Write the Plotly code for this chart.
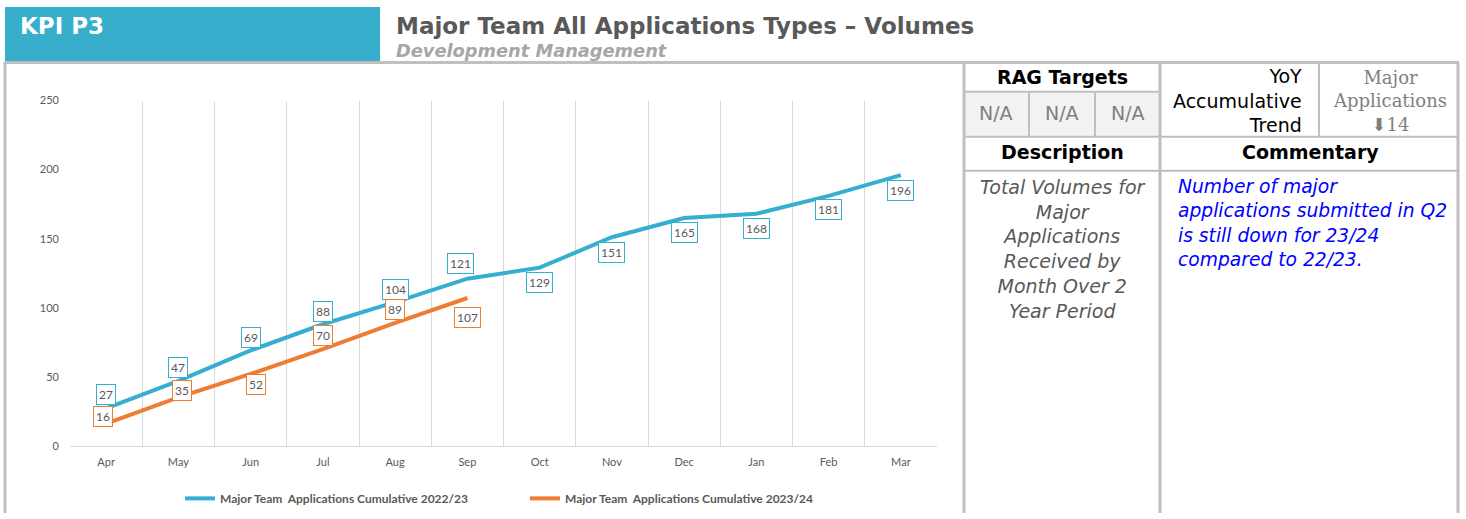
import plotly.graph_objects as go

W, H = 1466, 519

months = ["Apr", "May", "Jun", "Jul", "Aug", "Sep", "Oct", "Nov", "Dec", "Jan", "Feb", "Mar"]
series_2223_name = "Major Team  Applications Cumulative 2022/23"
series_2324_name = "Major Team  Applications Cumulative 2023/24"
values_2223 = [27, 47, 69, 88, 104, 121, 129, 151, 165, 168, 181, 196]
values_2324 = [16, 35, 52, 70, 89, 107]
y_ticks = [0, 50, 100, 150, 200, 250]

# label offsets (pixels, positive = up) – styling only
shift_2223 = [14, 13, 13, 13, 13, 15, -15, -15, -15, -15, -14, -15]
xshift_2223 = [0, 0, 0, 0, 0, -7, 0, 0, 0, 0, 0, 0]
shift_2324 = [7, 7, -11, 14, 13, -19]
xshift_2324 = [-3, 4, 5, 0, 0, 0]

BLUE = "#36AED0"
ORANGE = "#ED7D31"
TEAL = "#36AECC"
GRID = "#D9D9D9"
BORDER = "#BFBFBF"
TXT = "#595959"
CHART_FONT = "Lato, Liberation Sans, sans-serif"
SANS = "DejaVu Sans, Liberation Sans, sans-serif"
SERIF = "DejaVu Serif, Liberation Serif, serif"


def px(x):
    return x / W


def py(y):
    return 1 - y / H


fig = go.Figure()
fig.add_trace(go.Scatter(x=months, y=values_2223, mode="lines", name="<b>" + series_2223_name + "</b>",
                         line=dict(color=BLUE, width=4)))
fig.add_trace(go.Scatter(x=months[:len(values_2324)], y=values_2324, mode="lines",
                         name="<b>" + series_2324_name + "</b>",
                         line=dict(color=ORANGE, width=4)))

annotations = []
for m, v, s, xs in zip(months, values_2223, shift_2223, xshift_2223):
    annotations.append(dict(x=m, y=v, xref="x", yref="y", text=str(v), showarrow=False,
                            yshift=s, xshift=xs, font=dict(family=CHART_FONT, size=12, color=TXT),
                            bgcolor="white", bordercolor=BLUE, borderwidth=1, borderpad=2))
for m, v, s, xs in zip(months, values_2324, shift_2324, xshift_2324):
    annotations.append(dict(x=m, y=v, xref="x", yref="y", text=str(v), showarrow=False,
                            yshift=s, xshift=xs, font=dict(family=CHART_FONT, size=12, color=TXT),
                            bgcolor="white", bordercolor=ORANGE, borderwidth=1, borderpad=2))

shapes = []
# header banner
shapes.append(dict(type="rect", xref="paper", yref="paper", x0=px(5), x1=px(380), y0=py(57), y1=py(0),
                   fillcolor=TEAL, line=dict(width=0), layer="below"))
# N/A cells background
shapes.append(dict(type="rect", xref="paper", yref="paper", x0=px(964), x1=px(1160), y0=py(133), y1=py(87),
                   fillcolor="#F2F2F2", line=dict(width=0), layer="below"))


def hline(y, x0, x1, w=2):
    shapes.append(dict(type="line", xref="paper", yref="paper", x0=px(x0), x1=px(x1), y0=py(y), y1=py(y),
                       line=dict(color=BORDER, width=w)))


def vline(x, y0, y1, w=2):
    shapes.append(dict(type="line", xref="paper", yref="paper", x0=px(x), x1=px(x), y0=py(y0), y1=py(y1),
                       line=dict(color=BORDER, width=w)))


hline(57, 5, 1459, 3)
vline(5, 56, 519, 3)
vline(964, 57, 519, 3)
vline(1160, 57, 519, 3)
vline(1458, 57, 519, 3)
vline(1319, 57, 133, 2)
vline(1029, 87, 133, 2)
vline(1095, 87, 133, 2)
hline(87, 964, 1160, 2)
hline(133, 964, 1458, 2)
hline(168, 964, 1458, 2)


def txt(x, y, s, size, color, family=SANS, xanchor="left", align="left", yanchor="middle"):
    annotations.append(dict(xref="paper", yref="paper", x=px(x), y=py(y), text=s, showarrow=False,
                            xanchor=xanchor, yanchor=yanchor, align=align,
                            font=dict(family=family, size=size, color=color)))


txt(18, 19, "<b>KPI P3</b>", 23, "white")
txt(394, 19, "<b>Major Team All Applications Types – Volumes</b>", 23, TXT)
txt(394, 45, "<b><i>Development Management</i></b>", 17.8, "#A6A6A6")

txt(1062, 72, "<b>RAG Targets</b>", 19, "black", xanchor="center")
for cx in (996, 1062, 1128):
    txt(cx, 109, "N/A", 19, "#7F7F7F", xanchor="center")
txt(1304, 96, "YoY<br>Accumulative<br>Trend", 19, "black", xanchor="right", align="right")
txt(1390, 96, "Major<br>Applications<br><b>⬇</b>14", 18, "#7F7F7F",
    family=SERIF, xanchor="center", align="center")
txt(1062, 149, "<b>Description</b>", 19, "black", xanchor="center")
txt(1310, 149, "<b>Commentary</b>", 19, "black", xanchor="center")
txt(1063, 171, "<i>Total Volumes for<br>Major<br>Applications<br>Received by<br>Month Over 2<br>Year Period</i>",
    19, TXT, xanchor="center", align="center", yanchor="top")
txt(1176, 171, "<i>Number of major<br>applications submitted in Q2<br>is still down for 23/24<br>compared to 22/23.</i>",
    18.7, "#0000FF", xanchor="left", align="left", yanchor="top")

fig.update_layout(
    autosize=True,
    margin=dict(l=0, r=0, t=0, b=0),
    paper_bgcolor="white", plot_bgcolor="white",
    showlegend=True,
    legend=dict(orientation="h", x=px(180), y=py(504), xanchor="left", yanchor="middle",
                font=dict(family=CHART_FONT, size=12, color=TXT), itemwidth=30,
                entrywidth=300, entrywidthmode="pixels", bgcolor="rgba(0,0,0,0)",
                tracegroupgap=0),
    xaxis=dict(domain=[px(70), px(937)], range=[-0.5, 11.5], type="category",
               tickson="boundaries", showgrid=True, gridcolor=GRID, gridwidth=1,
               ticks="", showline=True, linecolor=GRID, linewidth=1,
               tickfont=dict(family=CHART_FONT, size=11, color=TXT), ticklabelstandoff=6,
               fixedrange=True),
    yaxis=dict(domain=[py(450), py(96)], range=[0, 250], tickvals=y_ticks, showgrid=False,
               zeroline=False, showline=False, ticks="",
               tickfont=dict(family=CHART_FONT, size=11, color=TXT), ticklabelstandoff=10,
               fixedrange=True),
    annotations=annotations,
    shapes=shapes,
)

post = (
    "document.documentElement.style.margin='0';document.documentElement.style.height='100%';"
    "document.documentElement.style.overflow='hidden';"
    "document.body.style.margin='0';document.body.style.height='100%';document.body.style.overflow='hidden';"
    "var d=document.getElementsByClassName('plotly-graph-div')[0];"
    "d.style.position='fixed';d.style.top='0px';d.style.left='0px';"
    "d.style.width='100vw';d.style.height='100vh';"
    "Plotly.Plots.resize(d);"
)
fig.write_html("out.html", config={"displayModeBar": False, "responsive": True},
               default_width="100%", default_height="100%", post_script=post)
